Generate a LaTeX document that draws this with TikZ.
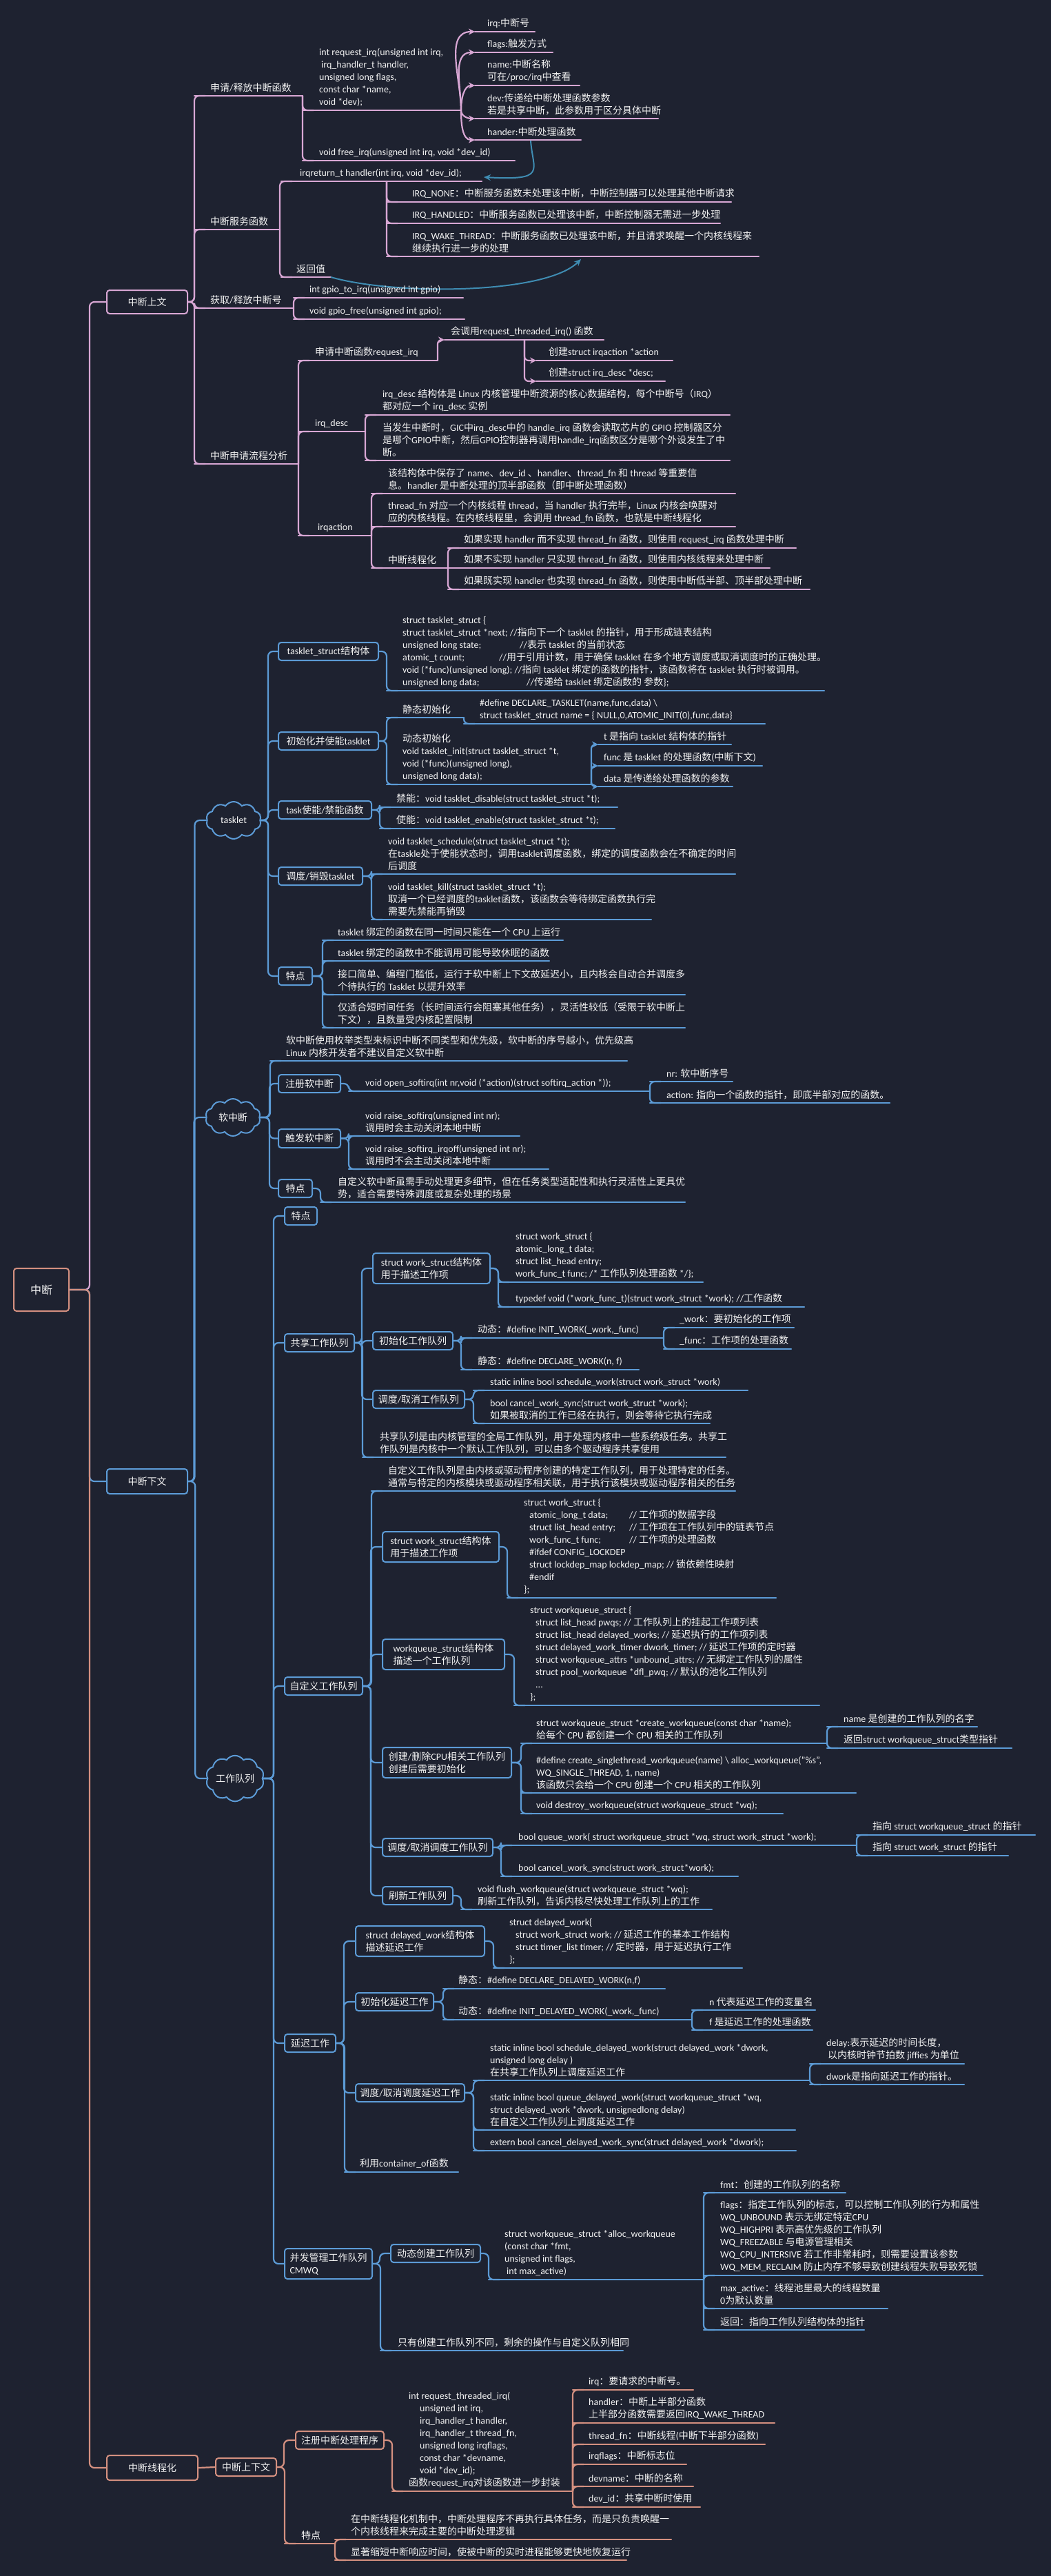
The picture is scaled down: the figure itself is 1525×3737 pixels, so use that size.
\documentclass[tikz,border=0pt]{standalone}
\usepackage{fontspec}
\setmainfont{Carlito}
\newfontfamily\latf{Carlito}
\newfontfamily\cjkf{Noto Sans CJK SC}
\usetikzlibrary{shapes.symbols,arrows.meta}
\XeTeXinterchartokenstate=1
\chardef\cjkcls=7
\newcount\cjkcnt
\cjkcnt="21
\loop \XeTeXcharclass\cjkcnt=0 \advance\cjkcnt by 1 \ifnum\cjkcnt<"7F \repeat
\cjkcnt="3000
\loop \XeTeXcharclass\cjkcnt=\cjkcls \advance\cjkcnt by 1 \ifnum\cjkcnt<"A000 \repeat
\cjkcnt="FF00
\loop \XeTeXcharclass\cjkcnt=\cjkcls \advance\cjkcnt by 1 \ifnum\cjkcnt<"FFF0 \repeat
\XeTeXinterchartoks 0 \cjkcls = {\cjkf}
\XeTeXinterchartoks 4095 \cjkcls = {\cjkf}
\XeTeXinterchartoks \cjkcls 0 = {\latf}
\XeTeXinterchartoks \cjkcls 4095 = {\latf}
\definecolor{bg}{HTML}{1E2230}
\definecolor{pinkc}{HTML}{D8A7D4}
\definecolor{bluec}{HTML}{5C9BD6}
\definecolor{salc}{HTML}{D49080}
\definecolor{relc}{HTML}{3F8CB2}
\definecolor{txtc}{HTML}{F2F2F2}
\colorlet{lc}{pinkc}
\newcommand\UL[6]{\coordinate (#1-l) at (#2,#5);\coordinate (#1-r) at (#4,#5);\draw[ln] (#1-l) -- (#1-r);\node[txt] (#1) at (#3,#5) {#6};}
\newcommand\BX[6]{\node[box,minimum width={#4-#2},minimum height={#5-#3}] (#1) at ({(#2+#4)/2},{(#3+#5)/2}) {#6};}
\newcommand\ConU[2]{\draw[ln,rounded corners=7pt] (#1) |- ([xshift=16pt]#2);}
\newcommand\ConB[2]{\draw[ln,rounded corners=7pt] (#1.east) -| (#2) -- ([xshift=16pt]#2);}
\newcommand\ConX[3]{\draw[ln,rounded corners=7pt] (#1.east) -| ([xshift=-#3pt]#2.west) -- (#2.west);}
\newcommand\ConA[3]{\draw[arr] (#1) to[out=#3,in=180] (#2);}
\newcommand\ConUA[2]{\draw[arr,rounded corners=6pt] (#1) |- (#2);}
\begin{document}
\begin{tikzpicture}[x=1pt,y=-1pt,
 ln/.style={draw=lc, line width=2.2pt, line cap=round},
 txt/.style={anchor=south west, text=txtc, font=\fontsize{14}{18}\selectfont, align=left, inner xsep=0pt, inner ysep=5pt},
 box/.style={draw=lc, line width=2pt, rounded corners=4pt, fill=bg, text=txtc, font=\fontsize{14}{18}\selectfont, align=left, inner sep=0pt},
 cl/.style={cloud, cloud puffs=10, cloud puff arc=110, aspect=1.4, draw=bluec, line width=2pt, fill=bg, text=txtc, font=\fontsize{14}{18}\selectfont, inner sep=0pt, minimum width=80pt, minimum height=54pt},
 rel/.style={draw=relc, line width=2pt, -{Stealth[length=10pt,width=9pt]}},
 arr/.style={ln, -{Stealth[length=9pt,width=9pt]}}]
\fill[bg] (0,0) rectangle (1525,3737);
\useasboundingbox (0,0) rectangle (1525,3737);
\node[box, draw=salc, minimum width=80pt, minimum height=62pt, font=\fontsize{16}{20}\selectfont, align=center] (root) at (60,1871) {中断};

% ================= Section 1 =================
\begin{scope}
\colorlet{lc}{pinkc}
\BX{s1}{155}{421}{272}{455}{中断上文}
\ConX{root}{s1}{24}
\UL{a1}{282}{305}{439}{139}{申请/释放中断函数}
\UL{a2}{282}{305}{406}{333}{中断服务函数}
\UL{a3}{282}{305}{426}{447}{获取/释放中断号}
\UL{a4}{282}{305}{433}{673}{中断申请流程分析}
\ConB{s1}{a1-l}\ConB{s1}{a2-l}\ConB{s1}{a3-l}\ConB{s1}{a4-l}
\UL{a11}{439}{463}{669}{160}{int request\_irq(unsigned int irq,\\\hspace*{3pt}irq\_handler\_t handler,\\unsigned long flags,\\const char *name,\\void *dev);}
\UL{a12}{439}{463}{747}{233}{void free\_irq(unsigned int irq, void *dev\_id)}
\ConU{a1-r}{a11-l}\ConU{a1-r}{a12-l}
\UL{p1}{689}{707}{776}{46}{irq:中断号}
\UL{p2}{689}{707}{802}{76}{flags:触发方式}
\UL{p3}{689}{707}{841}{124}{name:中断名称\\可在/proc/irq中查看}
\UL{p4}{689}{707}{955}{172}{dev:传递给中断处理函数参数\\若是共享中断，此参数用于区分具体中断}
\UL{p5}{689}{707}{843}{203}{hander:中断处理函数}
\ConA{a11-r}{p1-l}{90}\ConA{a11-r}{p2-l}{90}\ConA{a11-r}{p3-l}{90}\ConA{a11-r}{p4-l}{-90}\ConA{a11-r}{p5-l}{-90}
\UL{h1}{408}{435}{699}{263}{irqreturn\_t handler(int irq, void *dev\_id);}
\UL{h2}{408}{430}{480}{402}{返回值}
\ConU{a2-r}{h1-l}\ConU{a2-r}{h2-l}
\coordinate (hm) at (561,263);
\UL{i1}{561}{598}{1061}{293}{IRQ\_NONE：中断服务函数未处理该中断，中断控制器可以处理其他中断请求}
\UL{i2}{561}{598}{1045}{324}{IRQ\_HANDLED：中断服务函数已处理该中断，中断控制器无需进一步处理}
\UL{i3}{561}{598}{1101}{372}{IRQ\_WAKE\_THREAD：中断服务函数已处理该中断，并且请求唤醒一个内核线程来\\继续执行进一步的处理}
\ConU{hm}{i1-l}\ConU{hm}{i2-l}\ConU{hm}{i3-l}
\coordinate (rA) at (770,204);
\draw[rel] (rA) .. controls (773,248) and (795,262) .. ([xshift=3pt,yshift=6pt]h1-r);
\draw[rel] (h2-r) .. controls (570,428) and (790,428) .. ([xshift=282pt,yshift=-4pt]i3-l);
\UL{g1}{426}{449}{672}{432}{int gpio\_to\_irq(unsigned int gpio)}
\UL{g2}{426}{449}{674}{463}{void gpio\_free(unsigned int gpio);}
\ConU{a3-r}{g1-l}\ConU{a3-r}{g2-l}
\UL{r1}{433}{457}{635}{523}{申请中断函数request\_irq}
\UL{r2}{433}{457}{530}{626}{irq\_desc}
\UL{r3}{433}{461}{539}{777}{irqaction}
\ConU{a4-r}{r1-l}\ConU{a4-r}{r2-l}\ConU{a4-r}{r3-l}
\UL{r11}{645}{654}{876}{493}{会调用request\_threaded\_irq() 函数}
\ConUA{r1-r}{r11-l}
\coordinate (r11m) at (761,493);
\UL{r111}{778}{796}{976}{523}{创建struct irqaction *action}
\UL{r112}{778}{796}{965}{553}{创建struct irq\_desc *desc;}
\ConUA{r11m}{r111-l}\ConUA{r11m}{r112-l}
\UL{d1}{530}{555}{1059}{602}{irq\_desc 结构体是 Linux 内核管理中断资源的核心数据结构，每个中断号（IRQ）\\都对应一个 irq\_desc 实例}
\UL{d2}{530}{555}{1059}{668}{当发生中断时，GIC中irq\_desc中的 handle\_irq 函数会读取芯片的 GPIO 控制器区分\\是哪个GPIO中断，然后GPIO控制器再调用handle\_irq函数区分是哪个外设发生了中\\断。}
\ConU{r2-r}{d1-l}\ConU{r2-r}{d2-l}
\UL{q1}{539}{563}{1067}{716}{该结构体中保存了 name、dev\_id 、handler、thread\_fn 和 thread 等重要信\\息。handler 是中断处理的顶半部函数（即中断处理函数）}
\UL{q2}{539}{563}{1067}{764}{thread\_fn 对应一个内核线程 thread，当 handler 执行完毕，Linux 内核会唤醒对\\应的内核线程。在内核线程里，会调用 thread\_fn 函数，也就是中断线程化}
\UL{q3}{539}{563}{650}{824}{中断线程化}
\ConU{r3-r}{q1-l}\ConU{r3-r}{q2-l}\ConU{r3-r}{q3-l}
\UL{t1}{650}{673}{1155}{795}{如果实现 handler 而不实现 thread\_fn 函数，则使用 request\_irq 函数处理中断}
\UL{t2}{650}{673}{1117}{824}{如果不实现 handler 只实现 thread\_fn 函数，则使用内核线程来处理中断}
\UL{t3}{650}{673}{1175}{855}{如果既实现 handler 也实现 thread\_fn 函数，则使用中断低半部、顶半部处理中断}
\ConU{q3-r}{t1-l}\ConU{q3-r}{t3-l}
\end{scope}

% ================= Section 2 =================
\begin{scope}
\colorlet{lc}{bluec}
\BX{s2}{155}{2131}{272}{2167}{中断下文}
\ConX{root}{s2}{24}
\node[cl] (c1) at (339,1190) {tasklet};
\node[cl] (c2) at (338,1621) {软中断};
\node[cl] (c3) at (341,2580) {工作队列};
\ConX{s2}{c1}{17}\ConX{s2}{c2}{17}\ConX{s2}{c3}{17}
% tasklet
\BX{k1}{404}{932}{549}{958}{tasklet\_struct结构体}
\BX{k2}{404}{1062}{549}{1088}{初始化并使能tasklet}
\BX{k3}{404}{1162}{539}{1188}{task使能/禁能函数}
\BX{k4}{404}{1258}{526}{1284}{调度/销毁tasklet}
\BX{k5}{404}{1403}{453}{1429}{特点}
\ConX{c1}{k1}{14}\ConX{c1}{k2}{14}\ConX{c1}{k3}{14}\ConX{c1}{k4}{14}\ConX{c1}{k5}{14}
\UL{k11}{561}{584}{1196}{1002}{struct tasklet\_struct \{\\struct tasklet\_struct *next; //指向下一个 tasklet 的指针，用于形成链表结构\\\makebox[170pt][l]{unsigned long state;}//表示 tasklet 的当前状态\\\makebox[140pt][l]{atomic\_t count;}//用于引用计数，用于确保 tasklet 在多个地方调度或取消调度时的正确处理。\\void (*func)(unsigned long); //指向 tasklet 绑定的函数的指针，该函数将在 tasklet 执行时被调用。\\\makebox[180pt][l]{unsigned long data;}//传递给 tasklet 绑定函数的 参数\};}
\ConB{k1}{k11-l}
\UL{k21}{561}{584}{673}{1041}{静态初始化}
\UL{k211}{673}{696}{1110}{1050}{\#define DECLARE\_TASKLET(name,func,data) \textbackslash\\struct tasklet\_struct name = \{ NULL,0,ATOMIC\_INIT(0),func,data\}}
\UL{k22}{561}{584}{858}{1138}{动态初始化\\void tasklet\_init(struct tasklet\_struct *t,\\void (*func)(unsigned long),\\unsigned long data);}
\ConB{k2}{k21-l}\ConB{k2}{k22-l}\ConU{k21-r}{k211-l}
\UL{k221}{868}{876}{1061}{1080}{t 是指向 tasklet 结构体的指针}
\UL{k222}{868}{876}{1106}{1111}{func 是 tasklet 的处理函数(中断下文)}
\UL{k223}{868}{876}{1063}{1141}{data 是传递给处理函数的参数}
\ConUA{k22-r}{k221-l}\ConUA{k22-r}{k222-l}\ConUA{k22-r}{k223-l}
\UL{k31}{551}{575}{896}{1171}{禁能：void tasklet\_disable(struct tasklet\_struct *t);}
\UL{k32}{551}{575}{892}{1202}{使能：void tasklet\_enable(struct tasklet\_struct *t);}
\ConB{k3}{k31-l}\ConB{k3}{k32-l}
\UL{k41}{539}{563}{1067}{1268}{void tasklet\_schedule(struct tasklet\_struct *t);\\在taskle处于使能状态时，调用tasklet调度函数，绑定的调度函数会在不确定的时间\\后调度}
\UL{k42}{539}{563}{945}{1334}{void tasklet\_kill(struct tasklet\_struct *t);\\取消一个已经调度的tasklet函数，该函数会等待绑定函数执行完\\需要先禁能再销毁}
\ConB{k4}{k41-l}\ConB{k4}{k42-l}
\UL{k51}{468}{490}{817}{1364}{tasklet 绑定的函数在同一时间只能在一个 CPU 上运行}
\UL{k52}{468}{490}{797}{1394}{tasklet 绑定的函数中不能调用可能导致休眠的函数}
\UL{k53}{468}{490}{994}{1443}{接口简单、编程门槛低，运行于软中断上下文故延迟小，且内核会自动合并调度多\\个待执行的 Tasklet 以提升效率}
\UL{k54}{468}{490}{994}{1491}{仅适合短时间任务（长时间运行会阻塞其他任务），灵活性较低（受限于软中断上\\下文），且数量受内核配置限制}
\ConB{k5}{k51-l}\ConB{k5}{k52-l}\ConB{k5}{k53-l}\ConB{k5}{k54-l}
% softirq
\UL{m0}{392}{415}{910}{1539}{软中断使用枚举类型来标识中断不同类型和优先级，软中断的序号越小，优先级高\\Linux 内核开发者不建议自定义软中断}
\ConB{c2}{m0-l}
\BX{m1}{404}{1559}{494}{1585}{注册软中断}
\BX{m2}{404}{1638}{494}{1665}{触发软中断}
\BX{m3}{404}{1711}{453}{1737}{特点}
\ConX{c2}{m1}{12}\ConX{c2}{m2}{12}\ConX{c2}{m3}{12}
\UL{m11}{506}{530}{943}{1583}{void open\_softirq(int nr,void (*action)(struct softirq\_action *));}
\ConB{m1}{m11-l}
\UL{m111}{943}{967}{1063}{1569}{nr: 软中断序号}
\UL{m112}{943}{967}{1291}{1600}{action: 指向一个函数的指针，即底半部对应的函数。}
\ConU{m11-r}{m111-l}\ConU{m11-r}{m112-l}
\UL{m21}{506}{530}{754}{1648}{void raise\_softirq(unsigned int nr);\\调用时会主动关闭本地中断}
\UL{m22}{506}{530}{796}{1696}{void raise\_softirq\_irqoff(unsigned int nr);\\调用时不会主动关闭本地中断}
\ConB{m2}{m21-l}\ConB{m2}{m22-l}
\UL{m31}{465}{490}{994}{1744}{自定义软中断虽需手动处理更多细节，但在任务类型适配性和执行灵活性上更具优\\势，适合需要特殊调度或复杂处理的场景}
\ConB{m3}{m31-l}
% workqueue
\BX{w1}{413}{1751}{460}{1777}{特点}
\BX{w2}{413}{1935}{514}{1961}{共享工作队列}
\BX{w3}{413}{2433}{526}{2459}{自定义工作队列}
\BX{w4}{413}{2951}{487}{2977}{延迟工作}
\BX{w5}{413}{3262}{540}{3306}{并发管理工作队列\\CMWQ}
\ConX{c3}{w1}{15}\ConX{c3}{w2}{15}\ConX{c3}{w3}{15}\ConX{c3}{w4}{15}\ConX{c3}{w5}{15}
% shared
\BX{w21}{541}{1818}{711}{1862}{struct work\_struct结构体\\用于描述工作项}
\BX{w22}{541}{1932}{657}{1958}{初始化工作队列}
\BX{w23}{541}{2017}{674}{2043}{调度/取消工作队列}
\ConX{w2}{w21}{15}\ConX{w2}{w22}{15}\ConX{w2}{w23}{15}
\UL{w24}{526}{551}{1053}{2114}{共享队列是由内核管理的全局工作队列，用于处理内核中一些系统级任务。共享工\\作队列是内核中一个默认工作队列，可以由多个驱动程序共享使用}
\ConB{w2}{w24-l}
\UL{w211}{723}{748}{1020}{1860}{struct work\_struct \{\\atomic\_long\_t data;\\struct list\_head entry;\\work\_func\_t func; /* 工作队列处理函数 */\};}
\UL{w212}{723}{748}{1167}{1896}{typedef void (*work\_func\_t)(struct work\_struct *work); //工作函数}
\ConB{w21}{w211-l}\ConB{w21}{w212-l}
\UL{w221}{669}{693}{963}{1941}{动态：\#define INIT\_WORK(\_work,\_func)}
\UL{w222}{669}{693}{927}{1987}{静态：\#define DECLARE\_WORK(n, f)}
\ConB{w22}{w221-l}\ConB{w22}{w222-l}
\UL{w2211}{963}{986}{1152}{1926}{\_work：要初始化的工作项}
\UL{w2212}{963}{986}{1148}{1957}{\_func：工作项的处理函数}
\ConU{w221-r}{w2211-l}\ConU{w221-r}{w2212-l}
\UL{w231}{687}{711}{1085}{2017}{static inline bool schedule\_work(struct work\_struct *work)}
\UL{w232}{687}{711}{1030}{2065}{bool cancel\_work\_sync(struct work\_struct *work);\\如果被取消的工作已经在执行，则会等待它执行完成}
\ConB{w23}{w231-l}\ConB{w23}{w232-l}
% custom
\UL{w31}{539}{563}{1067}{2163}{自定义工作队列是由内核或驱动程序创建的特定工作队列，用于处理特定的任务。\\通常与特定的内核模块或驱动程序相关联，用于执行该模块或驱动程序相关的任务}
\ConB{w3}{w31-l}
\BX{w32}{555}{2222}{724}{2266}{struct work\_struct结构体\\用于描述工作项}
\BX{w33}{555}{2378}{732}{2422}{workqueue\_struct结构体\\描述一个工作队列}
\BX{w34}{555}{2535}{742}{2579}{创建/删除CPU相关工作队列\\创建后需要初始化}
\BX{w35}{555}{2667}{715}{2693}{调度/取消调度工作队列}
\BX{w36}{555}{2737}{657}{2763}{刷新工作队列}
\ConX{w3}{w32}{16}\ConX{w3}{w33}{16}\ConX{w3}{w34}{16}\ConX{w3}{w35}{16}\ConX{w3}{w36}{16}
\UL{w321}{736}{760}{1126}{2318}{struct work\_struct \{\\\hspace*{8pt}\makebox[145pt][l]{atomic\_long\_t data;}// 工作项的数据字段\\\hspace*{8pt}\makebox[145pt][l]{struct list\_head entry;}// 工作项在工作队列中的链表节点\\\hspace*{8pt}\makebox[145pt][l]{work\_func\_t func;}// 工作项的处理函数\\\hspace*{8pt}\#ifdef CONFIG\_LOCKDEP\\\hspace*{8pt}struct lockdep\_map lockdep\_map; // 锁依赖性映射\\\hspace*{8pt}\#endif\\\};}
\ConB{w32}{w321-l}
\UL{w331}{746}{769}{1189}{2474}{struct workqueue\_struct \{\\\hspace*{8pt}struct list\_head pwqs; // 工作队列上的挂起工作项列表\\\hspace*{8pt}struct list\_head delayed\_works; // 延迟执行的工作项列表\\\hspace*{8pt}struct delayed\_work\_timer dwork\_timer; // 延迟工作项的定时器\\\hspace*{8pt}struct workqueue\_attrs *unbound\_attrs; // 无绑定工作队列的属性\\\hspace*{8pt}struct pool\_workqueue *dfl\_pwq; // 默认的池化工作队列\\\hspace*{8pt}...\\\};}
\ConB{w33}{w331-l}
\UL{w341}{756}{778}{1200}{2529}{struct workqueue\_struct *create\_workqueue(const char *name);\\给每个 CPU 都创建一个 CPU 相关的工作队列}
\UL{w342}{756}{778}{1242}{2601}{\#define create\_singlethread\_workqueue(name) \textbackslash\ alloc\_workqueue("\%s",\\WQ\_SINGLE\_THREAD, 1, name)\\该函数只会给一个 CPU 创建一个 CPU 相关的工作队列}
\UL{w343}{756}{778}{1136}{2631}{void destroy\_workqueue(struct workqueue\_struct *wq);}
\ConB{w34}{w341-l}\ConB{w34}{w342-l}\ConB{w34}{w343-l}
\UL{w3411}{1200}{1224}{1418}{2505}{name 是创建的工作队列的名字}
\UL{w3412}{1200}{1224}{1468}{2536}{返回struct workqueue\_struct类型指针}
\ConU{w341-r}{w3411-l}\ConU{w341-r}{w3412-l}
\UL{w351}{727}{752}{1243}{2677}{bool queue\_work( struct workqueue\_struct *wq, struct work\_struct *work);}
\UL{w352}{727}{752}{1071}{2722}{bool cancel\_work\_sync(struct work\_struct*work);}
\ConB{w35}{w351-l}\ConB{w35}{w352-l}
\UL{w3511}{1243}{1266}{1502}{2662}{指向 struct workqueue\_struct 的指针}
\UL{w3512}{1243}{1266}{1463}{2692}{指向 struct work\_struct 的指针}
\ConU{w351-r}{w3511-l}\ConU{w351-r}{w3512-l}
\UL{w361}{669}{693}{1033}{2770}{void flush\_workqueue(struct workqueue\_struct *wq);\\刷新工作队列，告诉内核尽快处理工作队列上的工作}
\ConB{w36}{w361-l}
% delayed
\BX{w41}{516}{2794}{703}{2838}{struct delayed\_work结构体\\描述延迟工作}
\BX{w42}{516}{2891}{629}{2917}{初始化延迟工作}
\BX{w43}{516}{3023}{674}{3049}{调度/取消调度延迟工作}
\ConX{w4}{w41}{16}\ConX{w4}{w42}{16}\ConX{w4}{w43}{16}
\UL{w44}{500}{522}{665}{3151}{利用container\_of函数}
\ConB{w4}{w44-l}
\UL{w411}{716}{739}{1077}{2855}{struct delayed\_work\{\\\hspace*{9pt}struct work\_struct work; // 延迟工作的基本工作结构\\\hspace*{9pt}struct timer\_list timer; // 定时器，用于延迟执行工作\\\};}
\ConB{w41}{w411-l}
\UL{w421}{643}{665}{965}{2885}{静态：\#define DECLARE\_DELAYED\_WORK(n,f)}
\UL{w422}{643}{665}{1004}{2930}{动态：\#define INIT\_DELAYED\_WORK(\_work,\_func)}
\ConB{w42}{w421-l}\ConB{w42}{w422-l}
\UL{w4221}{1004}{1029}{1183}{2916}{n 代表延迟工作的变量名}
\UL{w4222}{1004}{1029}{1179}{2945}{f 是延迟工作的处理函数}
\ConU{w422-r}{w4221-l}\ConU{w422-r}{w4222-l}
\UL{w431}{687}{711}{1175}{3018}{static inline bool schedule\_delayed\_work(struct delayed\_work *dwork,\\unsigned long delay )\\在共享工作队列上调度延迟工作}
\UL{w432}{687}{711}{1154}{3090}{static inline bool queue\_delayed\_work(struct workqueue\_struct *wq,\\struct delayed\_work *dwork, unsignedlong delay)\\在自定义工作队列上调度延迟工作}
\UL{w433}{687}{711}{1155}{3120}{extern bool cancel\_delayed\_work\_sync(struct delayed\_work *dwork);}
\ConB{w43}{w431-l}\ConB{w43}{w432-l}\ConB{w43}{w433-l}
\UL{w4311}{1175}{1199}{1399}{2994}{delay:表示延迟的时间长度，\\\hspace*{2pt}以内核时钟节拍数 jiffies 为单位}
\UL{w4312}{1175}{1199}{1399}{3024}{dwork是指向延迟工作的指针。}
\ConU{w431-r}{w4311-l}\ConU{w431-r}{w4312-l}
% CMWQ
\BX{w51}{567}{3256}{697}{3282}{动态创建工作队列}
\ConX{w5}{w51}{15}
\UL{w52}{552}{577}{904}{3410}{只有创建工作队列不同，剩余的操作与自定义队列相同}
\ConB{w5}{w52-l}
\UL{w511}{709}{732}{1021}{3307}{struct workqueue\_struct *alloc\_workqueue\\(const char *fmt,\\unsigned int flags,\\\hspace*{3pt}int max\_active)}
\ConB{w51}{w511-l}
\UL{f1}{1021}{1045}{1227}{3181}{fmt：创建的工作队列的名称}
\UL{f2}{1021}{1045}{1426}{3301}{flags：指定工作队列的标志，可以控制工作队列的行为和属性\\WQ\_UNBOUND 表示无绑定特定CPU\\WQ\_HIGHPRI 表示高优先级的工作队列\\WQ\_FREEZABLE 与电源管理相关\\WQ\_CPU\_INTERSIVE 若工作非常耗时，则需要设置该参数\\WQ\_MEM\_RECLAIM 防止内存不够导致创建线程失败导致死锁}
\UL{f3}{1021}{1045}{1288}{3349}{max\_active：线程池里最大的线程数量\\0为默认数量}
\UL{f4}{1021}{1045}{1254}{3380}{返回：指向工作队列结构体的指针}
\ConU{w511-r}{f1-l}\ConU{w511-r}{f2-l}\ConU{w511-r}{f3-l}\ConU{w511-r}{f4-l}
\end{scope}

% ================= Section 3 =================
\begin{scope}
\colorlet{lc}{salc}
\BX{s3}{155}{3562}{287}{3598}{中断线程化}
\ConX{root}{s3}{24}
\BX{z1}{313}{3566}{401}{3592}{中断上下文}
\draw[ln] (s3.east) -- (z1.west);
\BX{z11}{429}{3527}{557}{3553}{注册中断处理程序}
\ConX{z1}{z11}{16}
\UL{z12}{413}{437}{486}{3690}{特点}
\ConB{z1}{z12-l}
\UL{z111}{569}{593}{831}{3614}{int request\_threaded\_irq(\\\hspace*{16pt}unsigned int irq,\\\hspace*{16pt}irq\_handler\_t handler,\\\hspace*{16pt}irq\_handler\_t thread\_fn,\\\hspace*{16pt}unsigned long irqflags,\\\hspace*{16pt}const char *devname,\\\hspace*{16pt}void *dev\_id);\\函数request\_irq对该函数进一步封装}
\ConB{z11}{z111-l}
\UL{y1}{831}{854}{1006}{3467}{irq：要请求的中断号。}
\UL{y2}{831}{854}{1124}{3515}{handler：中断上半部分函数\\上半部分函数需要返回IRQ\_WAKE\_THREAD}
\UL{y3}{831}{854}{1110}{3546}{thread\_fn：中断线程(中断下半部分函数)}
\UL{y4}{831}{854}{996}{3575}{irqflags：中断标志位}
\UL{y5}{831}{854}{1006}{3607}{devname：中断的名称}
\UL{y6}{831}{854}{1016}{3637}{dev\_id：共享中断时使用}
\ConU{z111-r}{y1-l}\ConU{z111-r}{y2-l}\ConU{z111-r}{y3-l}\ConU{z111-r}{y4-l}\ConU{z111-r}{y5-l}\ConU{z111-r}{y6-l}
\UL{z121}{486}{509}{974}{3684}{在中断线程化机制中，中断处理程序不再执行具体任务，而是只负责唤醒一\\个内核线程来完成主要的中断处理逻辑}
\UL{z122}{486}{509}{909}{3714}{显著缩短中断响应时间，使被中断的实时进程能够更快地恢复运行}
\ConU{z12-r}{z121-l}\ConU{z12-r}{z122-l}
\end{scope}
\end{tikzpicture}
\end{document}
